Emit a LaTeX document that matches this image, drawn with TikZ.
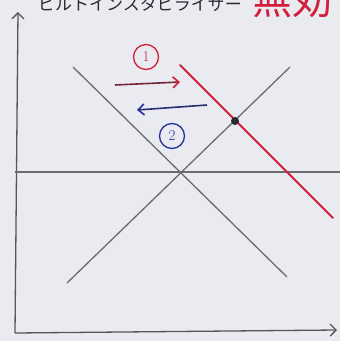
\documentclass[tikz,border=0pt]{standalone}
\usepackage{fontspec}
\newfontfamily\jpfont{Noto Sans CJK JP}
\usetikzlibrary{arrows.meta}
\definecolor{paper}{HTML}{E9EBF0}
\definecolor{pencil}{HTML}{6C6C70}
\definecolor{inkred}{HTML}{D11F3C}
\definecolor{inkblue}{HTML}{25329C}
\definecolor{inkdark}{HTML}{2A2A32}

\begin{document}
\begin{tikzpicture}[
    x=1pt, y=-1pt,
    >={Straight Barb[length=6pt, width=12pt]},
    graphline/.style={pencil, line width=1.3pt},
    axisline/.style={pencil!80!black, line width=1.3pt},
    numcirc/.style={circle, draw, line width=1.3pt, inner sep=1pt,
      minimum size=25pt, font=\fontsize{15}{15}\selectfont},
  ]

  % ===== Paper =====
  \useasboundingbox (0,0) rectangle (340,341);
  \clip (0,0) rectangle (340,341);
  \fill[paper] (0,0) rectangle (340,341);

  % Title (cut off at the top edge)
  \node[font=\jpfont\fontsize{17}{17}\selectfont, text=inkdark,
    anchor=south west, inner sep=0] (title) at (38,12) {ビルトインスタビライザー};
  \node[font=\jpfont\fontsize{40}{40}\selectfont, text=inkred,
    anchor=south west, inner sep=0] (verdict) at (252,18) {無効};

  % ===== Axes =====
  \coordinate (O) at (15,333);
  \coordinate (ytop) at (18,12);
  \coordinate (xend) at (337,330);
  \draw[axisline, ->] (O) -- (ytop);
  \draw[axisline, ->] (O) -- (xend);

  % Price level
  \coordinate (p1) at (15,172);
  \coordinate (p2) at (340,172);
  \draw[graphline] (p1) -- (p2);

  % Demand and supply
  \coordinate (d1) at (73,67);
  \coordinate (d2) at (287,277);
  \coordinate (s1) at (67,283);
  \coordinate (s2) at (290,67);
  \draw[graphline] (d1) -- (d2);
  \draw[graphline] (s1) -- (s2);

  % Shifted demand
  \coordinate (r1) at (180,65);
  \coordinate (r2) at (333,218);
  \draw[inkred, line width=1.8pt, line cap=round] (r1) -- (r2);
  \node[circle, fill=inkdark, inner sep=0, minimum size=8pt] (E) at (235,121) {};

  % ===== Shift arrows =====
  \coordinate (a1s) at (115,85);
  \coordinate (a1e) at (180,82);
  \draw[inkdark!55!inkred, line width=1.6pt,
    -{Straight Barb[length=6pt, width=11pt, color=inkred]}] (a1s) -- (a1e);
  \node[numcirc, draw=inkred, text=inkred] (n1) at (146,57) {1};

  \coordinate (a2s) at (207,105);
  \coordinate (a2e) at (137,110);
  \draw[inkdark!40!inkblue, line width=1.6pt,
    -{Straight Barb[length=6pt, width=11pt, color=inkblue]}] (a2s) -- (a2e);
  \node[numcirc, draw=inkblue, text=inkblue] (n2) at (172,136) {2};

\end{tikzpicture}
\end{document}
